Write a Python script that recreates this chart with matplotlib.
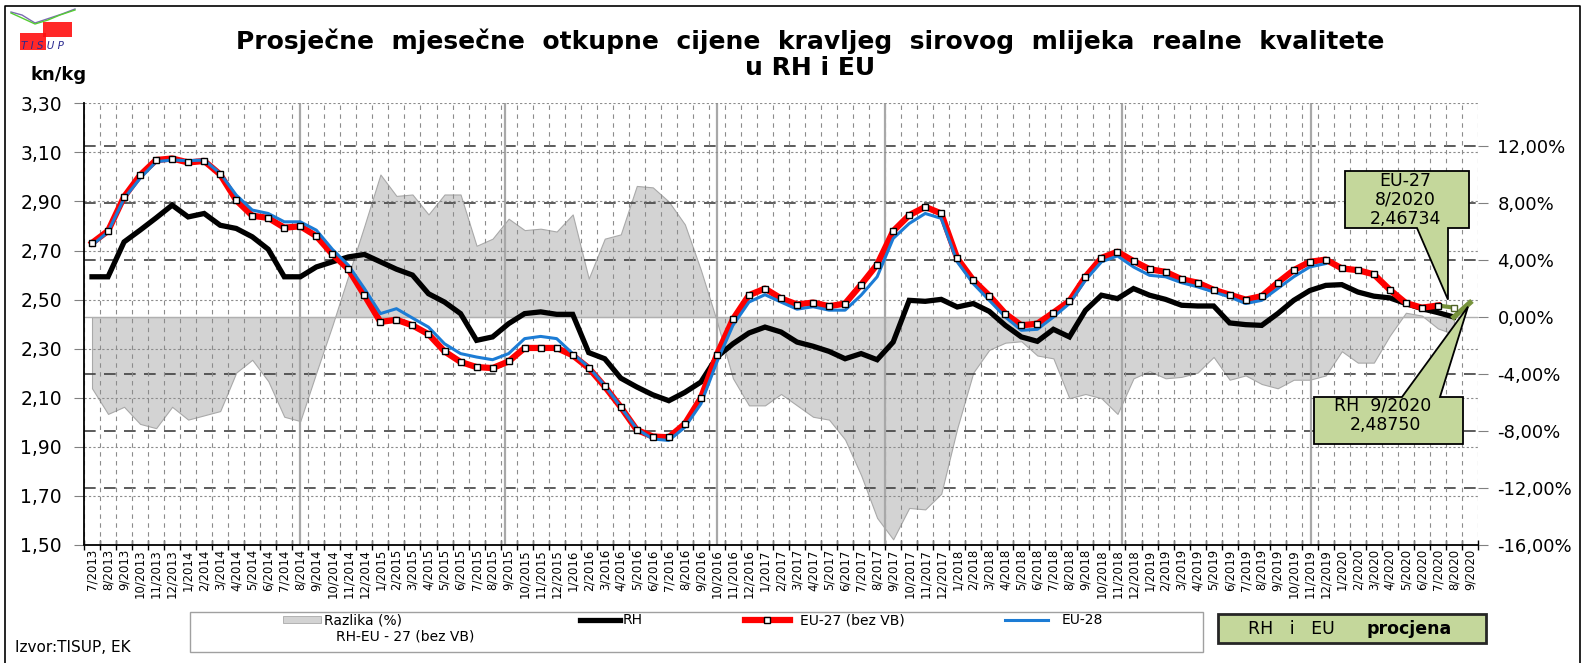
import numpy as np
import matplotlib.pyplot as plt
from matplotlib.patches import Rectangle, Polygon
from matplotlib.lines import Line2D

plt.rcParams['font.family'] = ['DejaVu Sans']

# month labels 7/2013 .. 9/2020
months = [f"{m}/{y}" for y in range(2013, 2021) for m in range(1, 13)]
months = months[months.index("7/2013"):months.index("9/2020") + 1]

rh = [2.593, 2.593, 2.735, 2.783, 2.833, 2.885, 2.837, 2.851, 2.803, 2.790,
      2.756, 2.705, 2.593, 2.593, 2.633, 2.654, 2.674, 2.684, 2.654, 2.624,
      2.600, 2.524, 2.490, 2.443, 2.334, 2.348, 2.402, 2.443, 2.450, 2.440,
      2.440, 2.284, 2.259, 2.180, 2.144, 2.112, 2.088, 2.122, 2.164, 2.266,
      2.320, 2.364, 2.388, 2.368, 2.327, 2.310, 2.289, 2.259, 2.280, 2.255,
      2.327, 2.497, 2.493, 2.501, 2.470, 2.484, 2.452, 2.395, 2.348, 2.330,
      2.379, 2.348, 2.456, 2.518, 2.504, 2.545, 2.518, 2.501, 2.477, 2.474,
      2.474, 2.405, 2.398, 2.395, 2.443, 2.497, 2.537, 2.558, 2.561, 2.531,
      2.514, 2.507, 2.484, 2.463, 2.447, 2.429]
rh_est = 2.48750  # 9/2020

eu27 = [2.731, 2.780, 2.919, 3.007, 3.069, 3.075, 3.059, 3.065, 3.010, 2.905,
        2.842, 2.833, 2.793, 2.799, 2.759, 2.685, 2.624, 2.518, 2.409, 2.418,
        2.395, 2.359, 2.289, 2.246, 2.225, 2.221, 2.248, 2.303, 2.303, 2.303,
        2.273, 2.221, 2.146, 2.062, 1.969, 1.942, 1.939, 1.994, 2.099, 2.276,
        2.420, 2.518, 2.545, 2.505, 2.480, 2.488, 2.473, 2.484, 2.561, 2.643,
        2.779, 2.844, 2.878, 2.851, 2.668, 2.579, 2.516, 2.443, 2.395, 2.402,
        2.447, 2.494, 2.593, 2.670, 2.695, 2.657, 2.624, 2.613, 2.583, 2.569,
        2.540, 2.520, 2.500, 2.514, 2.569, 2.620, 2.654, 2.663, 2.627, 2.620,
        2.603, 2.540, 2.486, 2.467, 2.476]
eu27_est = 2.46734  # 8/2020

eu28 = [2.722, 2.776, 2.912, 2.994, 3.062, 3.069, 3.066, 3.069, 3.014, 2.926,
        2.865, 2.851, 2.817, 2.817, 2.783, 2.705, 2.640, 2.545, 2.443, 2.463,
        2.425, 2.388, 2.320, 2.280, 2.266, 2.255, 2.280, 2.341, 2.350, 2.341,
        2.280, 2.225, 2.150, 2.062, 1.973, 1.932, 1.926, 1.980, 2.075, 2.246,
        2.395, 2.490, 2.520, 2.490, 2.461, 2.471, 2.457, 2.457, 2.518, 2.593,
        2.749, 2.810, 2.851, 2.831, 2.654, 2.565, 2.497, 2.429, 2.375, 2.379,
        2.429, 2.484, 2.579, 2.654, 2.678, 2.633, 2.599, 2.593, 2.569, 2.552,
        2.531, 2.511, 2.484, 2.497, 2.545, 2.593, 2.633, 2.647]

# Razlika (%) RH - EU-27
razlika = [-5.0, -6.8, -6.3, -7.5, -7.8, -6.3, -7.2, -6.9, -6.6, -3.9,
           -3.0, -4.5, -7.0, -7.3, -3.9, -0.6, 2.9, 6.4, 10.0, 8.5,
           8.6, 7.2, 8.6, 8.6, 5.0, 5.5, 6.9, 6.1, 6.2, 6.0,
           7.2, 2.7, 5.5, 5.8, 9.2, 9.1, 8.1, 6.5, 3.3, -0.3,
           -4.3, -6.2, -6.2, -5.4, -6.2, -7.0, -7.2, -8.6, -11.1, -14.1,
           -15.6, -13.4, -13.5, -12.4, -7.8, -3.9, -2.3, -1.8, -1.7, -2.7,
           -2.9, -5.7, -5.4, -5.7, -6.8, -4.3, -3.8, -4.3, -4.2, -3.9,
           -2.8, -4.4, -4.1, -4.7, -5.0, -4.4, -4.4, -4.1, -2.4, -3.2,
           -3.2, -1.3, 0.3, 0.1, -0.8, -1.2]

# grey vertical marker lines (month position)
vmarks = [13.0, 25.8, 39.0, 49.5, 64.3, 76.1]

W, H = 1585, 663
fig = plt.figure(figsize=(W / 100, H / 100), dpi=100)

def fx(px):
    return px / W

def fy(py):
    return 1 - py / H

L, R, T, B = 84, 1478, 103.3, 545
ax2 = fig.add_axes([fx(L), fy(B), fx(R) - fx(L), fy(T) - fy(B)])
ax = ax2.twinx()
ax.yaxis.tick_left()
ax2.yaxis.tick_right()

x = np.arange(len(months))
n_rh = len(rh)
n27 = len(eu27)

# percent axis (background)
ax2.fill_between(x[:len(razlika)], 0, razlika, color='#D3D3D3',
                 edgecolor='#A9A9A9', lw=0.8, zorder=1)
ax2.set_ylim(-16, 15)
ax2.set_yticks(np.arange(-16, 13, 4))
ax2.set_yticklabels([f"{v:.2f}%".replace('.', ',') for v in np.arange(-16, 13, 4)])
for v in np.arange(-12, 13, 4):
    if v == 0:
        ax2.axhline(v, color='#B0B0B0', lw=1.0, zorder=2)
    else:
        ax2.axhline(v, color='#404040', lw=1.2, ls=(0, (7, 5)), zorder=2)
for b in np.arange(-0.5, len(months), 1.0):
    ax2.axvline(b, color='#8C8C8C', lw=0.8, ls=(0, (4, 4)), zorder=2)
for v in vmarks:
    ax2.axvline(v, color='#A8A8A8', lw=1.6, zorder=2)

ax2.set_xlim(-0.5, len(months) - 0.5)
ax2.set_xticks(x)
ax2.set_xticklabels(months, rotation=90, fontsize=8.5)
ax2.set_xticks(np.arange(-0.5, len(months), 1.0), minor=True)
ax2.tick_params(axis='x', which='major', length=0, pad=3)
ax2.tick_params(axis='x', which='minor', length=7, direction='inout', width=1)
ax2.tick_params(axis='y', length=7, direction='out', color='#808080',
                labelsize=13, pad=7)
for s in ax2.spines.values():
    s.set_visible(False)
ax2.spines['bottom'].set_visible(True)
ax2.spines['bottom'].set_linewidth(1.3)

# price axis (front)
ax.set_ylim(1.5, 3.3)
yt = np.round(np.arange(1.5, 3.31, 0.2), 2)
ax.set_yticks(yt)
ax.set_yticklabels([f"{v:.2f}".replace('.', ',') for v in yt])
ax.tick_params(axis='y', length=7, direction='out', labelsize=13.5, pad=9,
               color='#808080')
for v in yt[1:]:
    ax.axhline(v, color='#8C8C8C', lw=0.8, ls=(0, (2, 2)), zorder=1)
for k in ['top', 'right', 'bottom']:
    ax.spines[k].set_visible(False)
ax.spines['left'].set_linewidth(1.3)

ax.plot(x[:n_rh], rh, color='black', lw=3.8, zorder=3, solid_joinstyle='miter')
ax.plot(x[n27 - 1:n27 + 1], [eu27[-1], eu27_est], color='#77933C', lw=3,
        zorder=3)
ax.plot(x[n_rh - 1:n_rh + 1], [rh[-1], rh_est], color='#77933C', lw=3.8,
        zorder=3)
ax.plot(x[:n27], eu27, color='#FF0000', lw=4.5, zorder=4)
ax.plot(x[:len(eu28)], eu28, color='#1C7CD5', lw=2.2, zorder=5)
ax.plot(x[:n27], eu27, ls='none', marker='s', ms=5, mfc='white', mec='black',
        mew=1, zorder=6)
ax.plot([x[n27]], [eu27_est], ls='none', marker='s', ms=5, mfc='white',
        mec='#4F6228', mew=1, zorder=6)

# overlay in pixel coordinates
ov = fig.add_axes([0, 0, 1, 1], zorder=10)
ov.set_xlim(0, W)
ov.set_ylim(H, 0)
ov.axis('off')

def to_px(a, xv, yv):
    X, Y = a.transData.transform((xv, yv))
    return X, H - Y

green = '#C4D79B'
t1x, t1y = to_px(ax, x[n27], eu27_est)
ov.add_patch(Polygon([(1345, 171), (1469, 171), (1469, 228), (1448, 228),
                      (t1x - 6, t1y - 8), (1417, 228), (1345, 228)],
                     closed=True, fc=green, ec='black', lw=1.3))
ov.text(1405, 181, "EU-27", ha='center', va='center', fontsize=12.5)
ov.text(1405, 200, "8/2020", ha='center', va='center', fontsize=12.5)
ov.text(1405, 219, f"{eu27_est:.5f}".replace('.', ','), ha='center',
        va='center', fontsize=12.5)

t2x, t2y = to_px(ax, x[n_rh], rh_est)
ov.add_patch(Polygon([(1314, 397), (1402, 397), (t2x - 2, t2y + 4), (1440, 397),
                      (1463, 397), (1463, 444), (1314, 444)],
                     closed=True, fc=green, ec='black', lw=1.3))
ov.text(1383, 406, "RH  9/2020", ha='center', va='center', fontsize=12.5)
ov.text(1385, 425, f"{rh_est:.5f}".replace('.', ','), ha='center',
        va='center', fontsize=12.5)

# title and axis unit
ov.text(810, 41, "Prosječne  mjesečne  otkupne  cijene  kravljeg  sirovog  mlijeka  realne  kvalitete",
        ha='center', va='center', fontsize=18, fontweight='bold')
ov.text(810, 68, "u RH i EU", ha='center', va='center', fontsize=18,
        fontweight='bold')
ov.text(30, 75, "kn/kg", ha='left', va='center', fontsize=13, fontweight='bold')

# logo
ov.plot([11, 22, 35, 50, 62, 75], [12, 15, 23, 18, 14, 9], color='#7A6AB0', lw=1)
ov.plot([11, 22, 35, 48, 60, 75], [13, 18, 24, 20, 15, 10], color='#55CC33', lw=1)
ov.add_patch(Rectangle((43, 22), 29, 15, fc='#FF1010', ec='none', alpha=0.9))
ov.add_patch(Rectangle((20, 33), 26, 17, fc='#FF1010', ec='none', alpha=0.9))
ov.text(42, 46, "T I S U P", ha='center', va='center', fontsize=7.5,
        style='italic', color='#2A2A90')

# legend box
ov.add_patch(Rectangle((190, 612), 1013, 40, fc='white', ec='#A0A0A0', lw=1))
ov.add_patch(Rectangle((283, 616), 38, 7, fc='#D3D3D3', ec='#A9A9A9', lw=0.6))
ov.text(324, 620, "Razlika (%)", ha='left', va='center', fontsize=10)
ov.text(336, 637, "RH-EU - 27 (bez VB)", ha='left', va='center', fontsize=10)
ov.plot([580, 620], [620, 620], color='black', lw=3.8)
ov.text(623, 620, "RH", ha='left', va='center', fontsize=10)
ov.plot([745, 790], [620, 620], color='#FF0000', lw=4.5)
ov.plot([767], [620], marker='s', ms=5, mfc='white', mec='black', mew=1)
ov.text(800, 620, "EU-27 (bez VB)", ha='left', va='center', fontsize=10)
ov.plot([1005, 1048], [620, 620], color='#1C7CD5', lw=2.2)
ov.text(1062, 620, "EU-28", ha='left', va='center', fontsize=10)

# estimate box
ov.add_patch(Rectangle((1218, 614), 268, 29, fc=green, ec='#262626', lw=2))
ov.text(1248, 629, "RH   i   EU", ha='left', va='center', fontsize=12.5)
ov.text(1366, 629, "procjena", ha='left', va='center', fontsize=12.5,
        fontweight='bold')

ov.text(15, 648, "Izvor:TISUP, EK", ha='left', va='center', fontsize=11)

# outer frame
ov.plot([5, 5, 1580, 1580], [H + 5, 6, 6, H + 5], color='black', lw=1.2)

fig.savefig("out.png", dpi=100)
